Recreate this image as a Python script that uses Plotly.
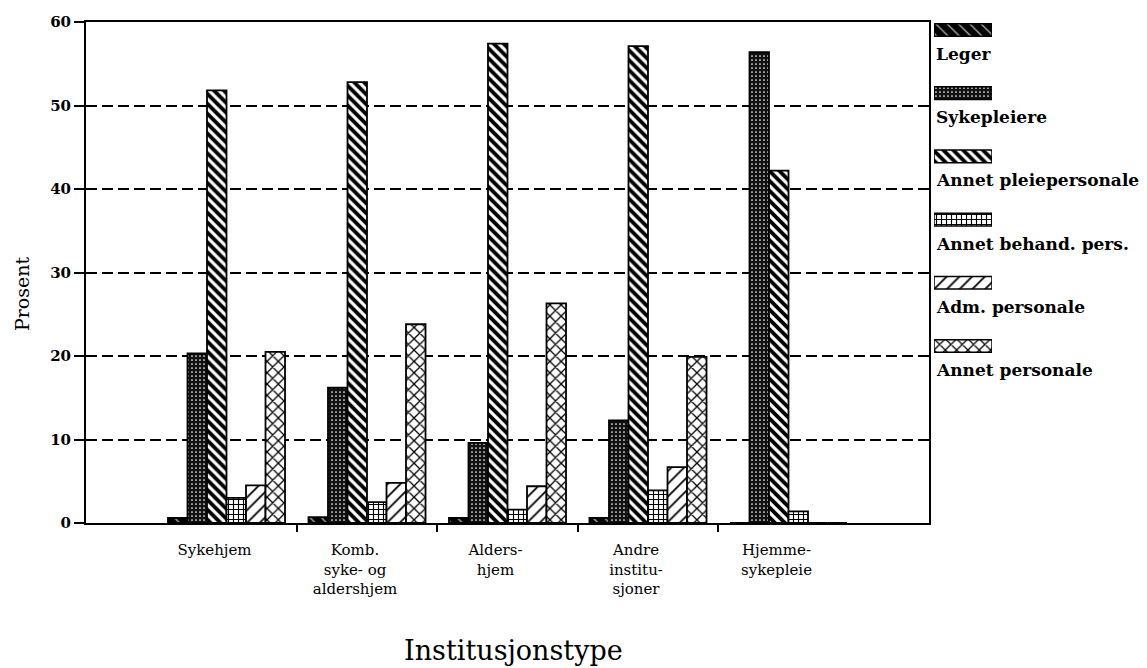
import plotly.graph_objects as go

categories = ["Sykehjem", "Komb.<br>syke- og<br>aldershjem", "Alders-<br>hjem",
              "Andre<br>institu-<br>sjoner", "Hjemme-<br>sykepleie"]
series_names = ["Leger", "Sykepleiere", "Annet pleiepersonale",
                "Annet behand. pers.", "Adm. personale", "Annet personale"]
leger = [0.6, 0.7, 0.6, 0.6, 0.0]
sykepleiere = [20.3, 16.2, 9.6, 12.3, 56.4]
annet_pleie = [51.8, 52.8, 57.4, 57.1, 42.2]
annet_behand = [3.0, 2.5, 1.6, 3.9, 1.4]
adm = [4.5, 4.8, 4.4, 6.7, 0.0]
annet_pers = [20.5, 23.8, 26.3, 19.9, 0.0]
values = [leger, sykepleiere, annet_pleie, annet_behand, adm, annet_pers]
y_ticks = [0, 10, 20, 30, 40, 50, 60]
boundary_ticks = [0.5, 1.5, 2.5, 3.5]

patterns = [
    dict(shape="\\", bgcolor="#000000", fgcolor="#bbbbbb", size=8, solidity=0.15, fillmode="replace"),
    dict(shape=".", bgcolor="#111111", fgcolor="#ffffff", size=4, solidity=0.15, fillmode="replace"),
    dict(shape="\\", bgcolor="#ffffff", fgcolor="#000000", size=7, solidity=0.55, fillmode="replace"),
    dict(shape="+", bgcolor="#ffffff", fgcolor="#000000", size=5, solidity=0.4, fillmode="replace"),
    dict(shape="/", bgcolor="#ffffff", fgcolor="#000000", size=9, solidity=0.2, fillmode="replace"),
    dict(shape="x", bgcolor="#ffffff", fgcolor="#000000", size=8, solidity=0.3, fillmode="replace"),
]

FONT = "DejaVu Serif"
fig = go.Figure()

for name, vals, pat in zip(series_names, values, patterns):
    fig.add_trace(go.Bar(
        x=categories, y=vals, name=name, xaxis="x", yaxis="y",
        marker=dict(color=pat["bgcolor"], pattern=pat, line=dict(color="black", width=1.8)),
        showlegend=False,
    ))

# empty helper trace so the boundary-tick axis is drawn
fig.add_trace(go.Scatter(x=[], y=[], xaxis="x3", yaxis="y", showlegend=False, hoverinfo="skip"))

# legend swatches drawn as horizontal bars on their own small axes
for name, pat in zip(series_names, patterns):
    fig.add_trace(go.Bar(
        x=[1], y=[name], orientation="h", xaxis="x2", yaxis="y2", width=0.2,
        marker=dict(color=pat["bgcolor"], pattern=pat, line=dict(color="black", width=1.5)),
        showlegend=False, hoverinfo="skip",
    ))

for i, name in enumerate(series_names):
    fig.add_annotation(
        text=name, xref="x2 domain", yref="y2", x=0.0, y=i + 0.38,
        xanchor="left", yanchor="middle", showarrow=False,
        font=dict(family=FONT, size=17, color="black", weight="bold"),
    )

# axis titles
fig.add_annotation(text="Prosent", xref="paper", yref="paper", x=-0.0606, y=0.457,
                   textangle=-90, showarrow=False, xanchor="center", yanchor="middle",
                   font=dict(family=FONT, size=19, color="black"))
fig.add_annotation(text="Institusjonstype", xref="paper", yref="paper", x=0.405, y=-0.254,
                   showarrow=False, xanchor="center", yanchor="middle",
                   font=dict(family=FONT, size=27, color="black"))

main_dom = [0, 843 / 1056]
fig.update_layout(
    width=1139, height=660,
    margin=dict(l=78, r=5, t=12, b=145),
    paper_bgcolor="white", plot_bgcolor="white",
    barmode="group", bargap=0.167, bargroupgap=0,
    font=dict(family=FONT, color="black"),
    xaxis=dict(
        domain=main_dom, type="category", range=[-1, 5],
        showline=True, linecolor="black", linewidth=2, mirror=True,
        ticks="", showgrid=False, zeroline=False,
        tickfont=dict(family=FONT, size=15, color="black"),
        ticklabelstandoff=12, ticklabelshift=-12,
    ),
    xaxis3=dict(
        overlaying="x", anchor="y", range=[-1, 5], type="linear",
        tickvals=boundary_ticks, ticks="outside", ticklen=8, tickwidth=2, tickcolor="black",
        showticklabels=False, showline=False, showgrid=False, zeroline=False,
    ),
    yaxis=dict(
        range=[0, 60], tickvals=y_ticks,
        showline=True, linecolor="black", linewidth=2, mirror=True,
        ticks="outside", ticklen=10, tickwidth=2, tickcolor="black",
        showgrid=True, gridcolor="black", gridwidth=2, griddash="11px,5px",
        zeroline=False,
        tickfont=dict(family=FONT, size=15, color="black", weight="bold"),
    ),
    xaxis2=dict(
        domain=[(934 - 86) / 1056, (992 - 86) / 1056], range=[0, 1], anchor="y2",
        visible=False, fixedrange=True,
    ),
    yaxis2=dict(
        domain=[0, 1], anchor="x2", type="category", categoryorder="array",
        categoryarray=series_names, range=[7.80, -0.126], visible=False,
    ),
)

fig.write_html("out.html")
